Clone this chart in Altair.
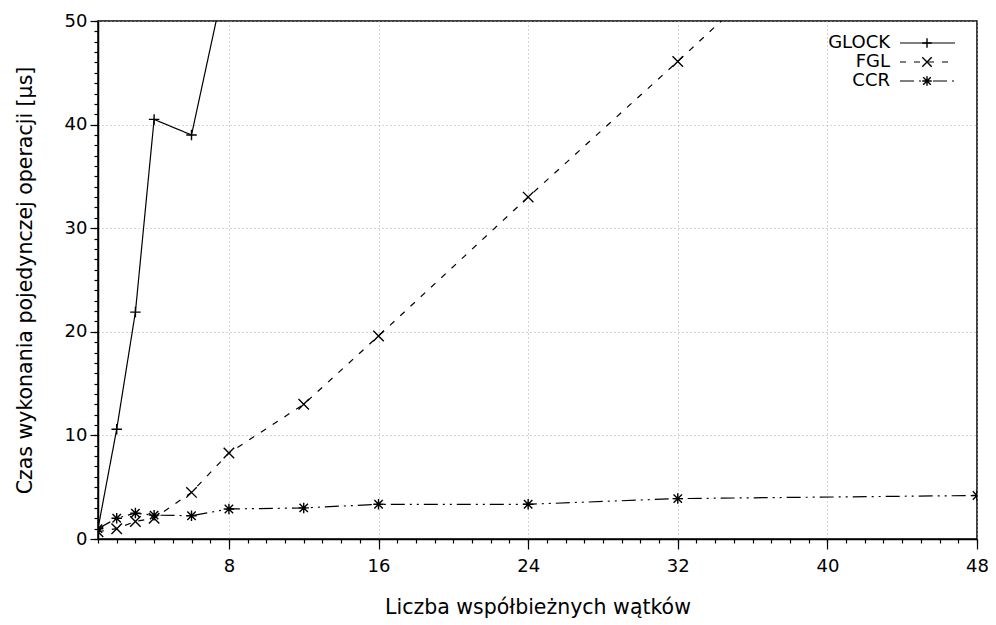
import altair as alt
import pandas as pd

# ---- data ----
threads_glock = [1, 2, 3, 4, 6, 8]
glock = [1.0, 10.6, 21.9, 40.5, 39.0, 55.7]

threads = [1, 2, 3, 4, 6, 8, 12, 16, 24, 32, 48]
fgl = [0.7, 1.0, 1.7, 2.0, 4.5, 8.3, 13.0, 19.6, 33.0, 46.1, 73.0]
ccr = [1.0, 2.0, 2.5, 2.3, 2.25, 2.9, 3.0, 3.35, 3.35, 3.9, 4.2]

series_names = ["GLOCK", "FGL", "CCR"]
x_major = [8, 16, 24, 32, 40, 48]
x_minor = list(range(1, 49))
y_major = [0, 10, 20, 30, 40, 50]
y_minor = list(range(0, 51))

df = pd.concat([
    pd.DataFrame({"threads": threads_glock, "value": glock, "series": "GLOCK"}),
    pd.DataFrame({"threads": threads, "value": fgl, "series": "FGL"}),
    pd.DataFrame({"threads": threads, "value": ccr, "series": "CCR"}),
], ignore_index=True)

FONT = "DejaVu Sans"
FS = 18
TFS = 20.5
W, H = 879, 518

xscale = alt.Scale(domain=[1, 48], nice=False, zero=False)
yscale = alt.Scale(domain=[0, 50], nice=False, zero=False)

PLUS = "M-1,0L1,0M0,-1L0,1"
CROSS = "M-1,-1L1,1M-1,1L1,-1"
STAR = "M-1,0L1,0M0,-1L0,1M-0.8,-0.8L0.8,0.8M-0.8,0.8L0.8,-0.8"

styles = {
    "GLOCK": dict(dash=[1, 0], shape=PLUS),
    "FGL": dict(dash=[6, 8], shape=CROSS),
    "CCR": dict(dash=[14, 5, 2, 5, 2, 5], shape=STAR),
}

axis_common = dict(labelFont=FONT, labelFontSize=FS, labelColor="black",
                   labelFontWeight="normal",
                   titleFont=FONT, titleFontSize=TFS, titleColor="black",
                   titleFontWeight="normal")

x_main = alt.X("threads:Q", scale=xscale,
               axis=alt.Axis(values=x_major, orient="bottom", tickSize=10, tickWidth=1.2,
                             tickColor="black", domainColor="black", domainWidth=1.5,
                             labelPadding=8, grid=True, gridDash=[1, 3], gridColor="#aaaaaa",
                             gridWidth=1, labelFlush=False,
                             title="Liczba współbieżnych wątków", titleY=68,
                             titleBaseline="middle", **axis_common))
y_main = alt.Y("value:Q", scale=yscale,
               axis=alt.Axis(values=y_major, orient="left", tickSize=8, tickWidth=1.2,
                             tickColor="black", domainColor="black", domainWidth=1.5,
                             labelPadding=3, grid=True, gridDash=[1, 3], gridColor="#aaaaaa",
                             gridWidth=1, labelFlush=False,
                             title="Czas wykonania pojedynczej operacji [µs]",
                             titleX=-73, titleY=H / 2, titleAngle=-90,
                             titleAlign="center", titleBaseline="middle", **axis_common))
x_plain = alt.X("threads:Q", scale=xscale, axis=None)
y_plain = alt.Y("value:Q", scale=yscale, axis=None)

layers = []
for i, name in enumerate(series_names):
    st = styles[name]
    b = alt.Chart(df).transform_filter(alt.datum.series == name)
    xe, ye = (x_main, y_main) if i == 0 else (x_plain, y_plain)
    line = b.mark_line(clip=True, color="black", strokeWidth=1.2,
                       strokeDash=st["dash"]).encode(x=xe, y=ye)
    pts = b.mark_point(clip=True, shape=st["shape"], filled=False, color="black",
                       strokeWidth=1.4, size=110, opacity=1).encode(x=x_plain, y=y_plain)
    layers += [line, pts]

# minor ticks axis layer
minor = alt.Chart(df).mark_point(opacity=0).encode(
    x=alt.X("threads:Q", scale=xscale,
            axis=alt.Axis(values=x_minor, orient="bottom", tickSize=4, tickColor="black",
                          tickWidth=1.2, labels=False, grid=False, domain=False, title="")),
    y=alt.Y("value:Q", scale=yscale,
            axis=alt.Axis(values=y_minor, orient="left", tickSize=4, tickColor="black",
                          tickWidth=1.2, labels=False, grid=False, domain=False, title="")),
)

# legend (gnuplot style: label, then sample line with marker)
leg_layers = []
for i, name in enumerate(series_names):
    st = styles[name]
    yy = 22 + 19 * i
    ld = alt.Chart(pd.DataFrame({"label": [name]}))
    leg_layers.append(ld.mark_text(align="right", baseline="middle", font=FONT,
                                   fontSize=FS, color="black").encode(
        text="label:N", x=alt.value(792), y=alt.value(yy)))
    leg_layers.append(ld.mark_rule(color="black", strokeWidth=1.2,
                                   strokeDash=st["dash"]).encode(
        x=alt.value(802), x2=alt.value(857), y=alt.value(yy)))
    leg_layers.append(ld.mark_point(shape=st["shape"], filled=False, color="black",
                                    strokeWidth=1.4, size=90, opacity=1).encode(
        x=alt.value(829), y=alt.value(yy)))

chart = alt.layer(*layers, minor, *leg_layers).resolve_axis(
    x="independent", y="independent"
).properties(
    width=W, height=H,
    padding={"left": 90, "top": 13, "right": 11, "bottom": 95},
    autosize=alt.AutoSizeParams(type="none"),
    background="white",
).configure_view(
    stroke="black", strokeWidth=1.5
)

chart.save("out.html", embed_options={"renderer": "svg", "actions": False})
